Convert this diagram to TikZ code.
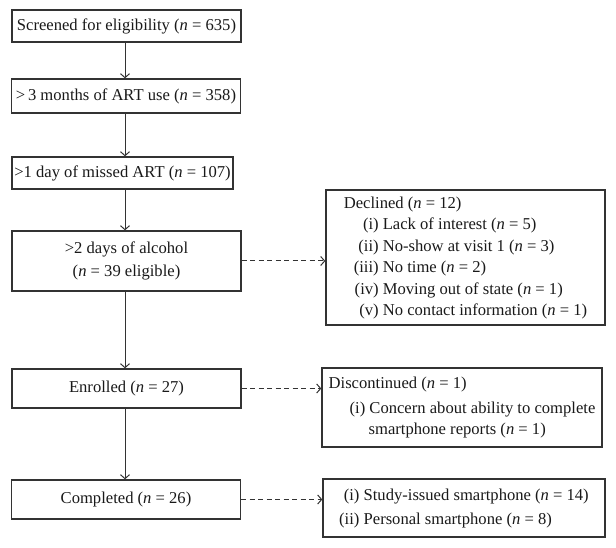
\documentclass[tikz,border=0pt]{standalone}
\usepackage{fontspec}
\setmainfont{Liberation Serif}
\usetikzlibrary{arrows.meta}

\definecolor{linegray}{gray}{0.2}
\definecolor{inkgray}{gray}{0.1}
\newcommand{\ncount}[1]{(\textit{n} = #1)}

\begin{document}
\begin{tikzpicture}[x=1pt, y=-1pt, font=\fontsize{16.6}{21.5}\selectfont, text=inkgray,
    stage/.style={draw=linegray, line width=1.3pt, minimum width=229pt, minimum height=32pt, inner sep=2pt},
    sidebox/.style={draw=linegray, line width=1.3pt, inner sep=3pt},
    flow/.style={draw=linegray, line width=1pt, -{Straight Barb[length=4pt, width=9pt]}},
    sideflow/.style={flow, dash pattern=on 5pt off 3.5pt}]
    \useasboundingbox (0,0) rectangle (616,548);

    \node[stage] (scr) at (126.5,26) {Screened for eligibility \ncount{635}};
    \node[stage, minimum height=34pt] (art) at (126,96) {>\,3 months of ART use \ncount{358}};
    \node[stage, minimum width=221pt] (miss) at (122.5,173) {>1 day of missed ART \ncount{107}};
    \node[stage, minimum height=60pt, align=center] (alc) at (126.5,261) {>2 days of alcohol\\[2pt] (\textit{n} = 39 eligible)};
    \node[stage, minimum height=39pt] (enr) at (126.5,388.5) {Enrolled \ncount{27}};
    \node[stage, minimum height=39pt] (comp) at (126,499.5) {Completed \ncount{26}};
    \coordinate (axis) at (125,0);

    \node[sidebox, minimum width=279pt, minimum height=131pt] (dec) at (465.5,257.5) {%
        \begin{tabular}{@{\hspace{10pt}}r@{\ }l@{}}
            \multicolumn{2}{@{}l}{Declined \ncount{12}}\\
            (i) & Lack of interest \ncount{5}\\
            (ii) & No-show at visit 1 \ncount{3}\\
            (iii) & No time \ncount{2}\\
            (iv) & Moving out of state \ncount{1}\\
            (v) & No contact information \ncount{1}
        \end{tabular}};
    \node[sidebox, minimum width=280pt, minimum height=79pt] (disc) at (462,407.5) {%
        \begin{tabular}{@{}l@{}}
            Discontinued \ncount{1}\\[3pt]
            \hspace*{21pt}(i) Concern about ability to complete\\
            \hspace*{40pt}smartphone reports \ncount{1}
        \end{tabular}};
    \node[sidebox, minimum width=282pt, minimum height=58pt] (phone) at (464,508) {%
        \begin{tabular}{@{}r@{\ }l@{}}
            (i) & Study-issued smartphone \ncount{14}\\[3pt]
            (ii) & Personal smartphone \ncount{8}
        \end{tabular}};

    % main stream
    \draw[flow] (scr.south -| axis) -- (art.north -| axis);
    \draw[flow] (art.south -| axis) -- (miss.north -| axis);
    \draw[flow] (miss.south -| axis) -- (alc.north -| axis);
    \draw[flow] (alc.south -| axis) -- (enr.north -| axis);
    \draw[flow] (enr.south -| axis) -- (comp.north -| axis);

    % side exits
    \draw[sideflow] (alc.east) -- (alc.east -| dec.west);
    \draw[sideflow] (enr.east) -- (enr.east -| disc.west);
    \draw[sideflow] (comp.east) -- (comp.east -| phone.west);
\end{tikzpicture}
\end{document}
